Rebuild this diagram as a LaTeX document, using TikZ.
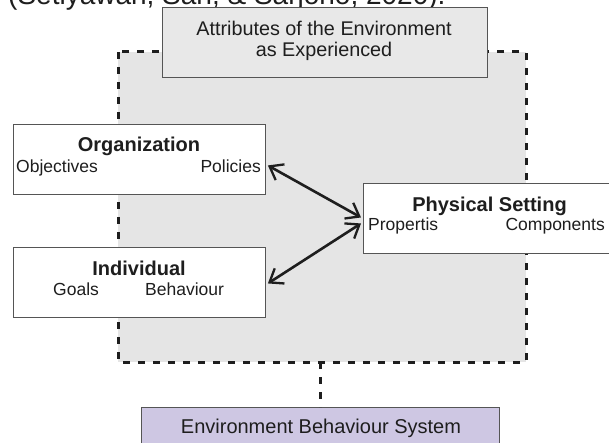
\documentclass[tikz,border=0pt]{standalone}
\usepackage{fontspec}
\setmainfont{Liberation Sans}
\usetikzlibrary{arrows.meta}
\definecolor{regiongray}{HTML}{E5E5E5}
\definecolor{attrgray}{HTML}{E8E8E8}
\definecolor{edgegray}{HTML}{555555}
\definecolor{lav}{HTML}{CEC7E3}
\definecolor{ink}{HTML}{1E1E1E}
\tikzset{
  box/.style={draw=edgegray, line width=0.9pt, fill=white},
  dashline/.style={line width=3pt, ink, dash pattern=on 7pt off 8pt},
  biarrow/.style={line width=2.6pt, ink, {Straight Barb[length=12pt,width=18pt,line width=2.3pt]}-{Straight Barb[length=12pt,width=18pt,line width=2.3pt]}},
  title/.style={anchor=base, inner sep=0pt, text=ink, font=\fontsize{20}{24}\selectfont\bfseries},
  sub/.style={inner sep=0pt, text=ink, font=\fontsize{17.5}{21}\selectfont},
  big/.style={anchor=base, inner sep=0pt, text=ink, font=\fontsize{19.8}{21}\selectfont},
}
\begin{document}
\begin{tikzpicture}[x=1pt,y=-1pt]
\useasboundingbox (0,0) rectangle (609,443);
\clip (0,0) rectangle (609,443);
\fill[white] (0,0) rectangle (609,443);
% caption remnant
\node[anchor=base west, inner sep=0pt, text=ink, font=\fontsize{28}{30}\selectfont] (cap) at (8,5) {(Setiyawan, Sari, \& Sarjono, 2020).};
% region
\fill[regiongray] (118,52) rectangle (526,362);
\draw[dashline] (118,52) rectangle (526,362);
\coordinate (regbot) at (320,362);
% boxes
\node[box, fill=attrgray, minimum width=325pt, minimum height=70pt, anchor=north west] (attr) at (162,7) {};
\node[big] (attr1) at (324,36) {Attributes of the Environment};
\node[big] (attr2) at (324,57) {as Experienced};
\node[box, minimum width=252pt, minimum height=70pt, anchor=north west] (org) at (13,124) {};
\node[title] (orgt) at (139,152) {Organization};
\node[sub, anchor=base west] (orgo) at (16,173) {Objectives};
\node[sub, anchor=base east] (orgp) at (261,173) {Policies};
\node[box, minimum width=252pt, minimum height=70pt, anchor=north west] (ind) at (13,247) {};
\node[title] (indt) at (139,275) {Individual};
\node[sub, anchor=base west] (indg) at (53,295) {Goals};
\node[sub, anchor=base west] (indb) at (145,295) {Behaviour};
\node[box, minimum width=260pt, minimum height=70pt, anchor=north west] (phys) at (363,183) {};
\node[title] (physt) at (489.5,212) {Physical Setting};
\node[sub, anchor=base west] (physp) at (368,231) {Propertis};
\node[sub, anchor=base east] (physc) at (605,231) {Components};
\node[box, fill=lav, minimum width=358pt, minimum height=50pt, anchor=north west] (ebs) at (141,407) {};
\node[big, font=\fontsize{20}{22}\selectfont] (ebst) at (321,433) {Environment Behaviour System};
% connectors
\draw[dashline] (regbot) -- (regbot |- ebs.north);
\draw[biarrow] ([shift={(2,6)}]org.east) -- ([shift={(-2,-1)}]phys.west);
\draw[biarrow] ([shift={(2,1)}]ind.east) -- ([shift={(-2,5)}]phys.west);
\end{tikzpicture}
\end{document}
